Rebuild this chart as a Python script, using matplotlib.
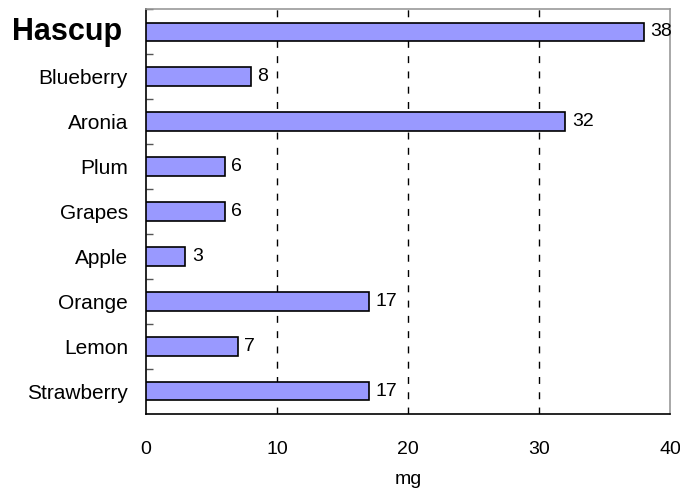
import matplotlib
matplotlib.use("Agg")
import matplotlib.pyplot as plt
from matplotlib.ticker import FixedLocator
from matplotlib.transforms import offset_copy

categories = ["Hascup", "Blueberry", "Aronia", "Plum", "Grapes", "Apple",
              "Orange", "Lemon", "Strawberry"]
values = [38, 8, 32, 6, 6, 3, 17, 7, 17]
x_ticks = [0, 10, 20, 30, 40]
x_label = "mg"

plt.rcParams['font.family'] = ['Liberation Sans', 'DejaVu Sans']
FS = 14
CFS = 15

fig = plt.figure(figsize=(6.8, 4.9), dpi=100)
ax = fig.add_axes([146/680, 1-413.5/490, (670-146)/680, (413.5-9.5)/490])

n = len(categories)
ypos = list(range(n))
bars = ax.barh(ypos, values, height=0.42, color="#9999FF", edgecolor="black",
               linewidth=1.2, zorder=3)
ax.set_ylim(n - 0.5, -0.5)
ax.set_xlim(0, 40)

ax.set_xticks(x_ticks)
ax.set_xticklabels([str(t) for t in x_ticks], fontsize=FS)
ax.tick_params(axis='x', length=0, pad=20)
ax.set_xlabel(x_label, fontsize=FS, labelpad=9)

ax.set_yticks(ypos)
ax.set_yticklabels([""] + categories[1:], fontsize=CFS)
ax.tick_params(axis='y', which='major', length=0, pad=13)
ax.yaxis.set_minor_locator(FixedLocator([i + 0.5 for i in range(n - 1)] + [-0.5]))
ax.tick_params(axis='y', which='minor', direction='in', length=5, width=1, color='#555555')

# highlighted first category
trans = offset_copy(ax.get_yaxis_transform(), fig=fig, x=-24, y=-8, units='dots')
ax.text(0, ypos[0], categories[0], transform=trans, ha='right', va='baseline',
        fontsize=22, fontweight='bold')

for x in x_ticks[1:-1]:
    ax.axvline(x, color='black', linewidth=1, linestyle=(0, (5, 6)), zorder=1)

for sp in ['top', 'right']:
    ax.spines[sp].set_color('#999999')
    ax.spines[sp].set_linewidth(1.2)
for sp in ['left', 'bottom']:
    ax.spines[sp].set_color('black')
    ax.spines[sp].set_linewidth(1.2)

for b, v in zip(bars, values):
    ax.text(v + 0.5, b.get_y() + b.get_height() / 2, str(v), va='center',
            ha='left', fontsize=FS, zorder=4)

fig.savefig("out.png", dpi=100)
